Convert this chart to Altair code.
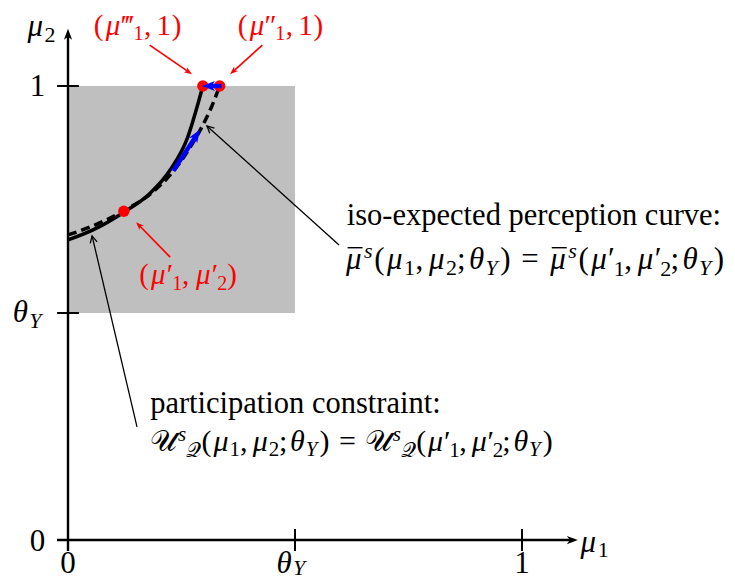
import math
import altair as alt
import pandas as pd

# ---------------- data (1 unit = 454 px on both axes) ----------------
shade_x = [0.0, 0.5]
shade_y = [0.5, 1.0]

x_axis = [-0.024, 1.123]          # start, arrow tip
y_axis = [-0.024, 1.126]
x_ticks = [0.0, 0.5, 1.0]
y_ticks = [0.0, 0.5, 1.0]
tick_half = 0.024

solid_x = [0.0, 0.055, 0.123, 0.181, 0.225, 0.264, 0.286, 0.297]
solid_y = [0.661, 0.683, 0.722, 0.764, 0.815, 0.888, 0.960, 1.0]
dashed_x = [0.0, 0.055, 0.123, 0.181, 0.225, 0.264, 0.295, 0.317, 0.334]
dashed_y = [0.672, 0.692, 0.725, 0.762, 0.804, 0.857, 0.910, 0.956, 1.0]

red_dot_x = [0.123, 0.297, 0.334]
red_dot_y = [0.724, 1.0, 1.0]

blue_tail_x = [0.232, 0.338]
blue_tail_y = [0.813, 1.0]
blue_tip_x = [0.291, 0.295]
blue_tip_y = [0.904, 1.0]

black_tail_x = [0.597, 0.152]
black_tail_y = [0.650, 0.249]
black_tip_x = [0.306, 0.053]
black_tip_y = [0.912, 0.670]

red_tail_x = [0.180, 0.428, 0.225]
red_tail_y = [1.090, 1.090, 0.623]
red_tip_x = [0.273, 0.357, 0.150]
red_tip_y = [1.026, 1.026, 0.700]

# ---------------- scales ----------------
UNIT = 454.0
W, H = 719, 572
X_DOMAIN = [-60 / UNIT, -60 / UNIT + W / UNIT]
Y_DOMAIN = [-40 / UNIT, -40 / UNIT + H / UNIT]
xs = alt.Scale(domain=X_DOMAIN, nice=False, zero=False)
ys = alt.Scale(domain=Y_DOMAIN, nice=False, zero=False)


def ex(f):
    return alt.X(f, type="quantitative", scale=xs, axis=None)


def ey(f):
    return alt.Y(f, type="quantitative", scale=ys, axis=None)


FONT = "Liberation Serif, DejaVu Serif, DejaVu Sans, serif"
STEALTH = "M0,0 L0.75,2 L0,1.45 L-0.75,2 Z"
OPEN_V = "M-0.8,1.6 L0,0 L0.8,1.6"

layers = []

# shaded square
layers.append(
    alt.Chart(pd.DataFrame({"x0": [shade_x[0]], "x1": [shade_x[1]], "y0": [shade_y[0]], "y1": [shade_y[1]]}))
    .mark_rect(color="#bfbfbf")
    .encode(x=ex("x0"), x2=alt.X2("x1"), y=ey("y0"), y2=alt.Y2("y1"))
)

# ticks
tick_rows = [dict(x0=t, x1=t, y0=-tick_half, y1=tick_half) for t in x_ticks] + \
            [dict(x0=-tick_half, x1=tick_half, y0=t, y1=t) for t in y_ticks]
layers.append(
    alt.Chart(pd.DataFrame(tick_rows)).mark_rule(color="black", strokeWidth=2)
    .encode(x=ex("x0"), x2=alt.X2("x1"), y=ey("y0"), y2=alt.Y2("y1"))
)


def arrows(tx, ty, hx, hy, color, width, shape, size, filled, back_px, sw=1.2):
    rows = []
    for x0, y0, x1, y1 in zip(tx, ty, hx, hy):
        L = math.hypot(x1 - x0, y1 - y0)
        ux, uy = (x1 - x0) / L, (y1 - y0) / L
        b = back_px / UNIT
        rows.append(dict(x0=x0, y0=y0, x1=x1 - ux * b, y1=y1 - uy * b, hx=x1, hy=y1,
                         ang=math.degrees(math.atan2(ux, uy)) % 360))
    df = pd.DataFrame(rows)
    shaft = alt.Chart(df).mark_rule(color=color, strokeWidth=width).encode(
        x=ex("x0"), y=ey("y0"), x2=alt.X2("x1"), y2=alt.Y2("y1"))
    if filled:
        hm = alt.Chart(df).mark_point(shape=shape, size=size, filled=True, color=color, opacity=1)
    else:
        hm = alt.Chart(df).mark_point(shape=shape, size=size, filled=False, color=color,
                                      opacity=1, strokeWidth=sw)
    head = hm.encode(x=ex("hx"), y=ey("hy"), angle=alt.Angle("ang:Q", scale=None))
    return [shaft, head]


# axes
layers += arrows([x_axis[0], 0.0], [0.0, y_axis[0]], [x_axis[1], 0.0], [0.0, y_axis[1]],
                 "black", 2.4, STEALTH, 121, True, 7)

# curves
layers.append(
    alt.Chart(pd.DataFrame({"x": solid_x, "y": solid_y}))
    .mark_line(color="black", strokeWidth=3.5, interpolate="monotone")
    .encode(x=ex("x"), y=ey("y"))
)
layers.append(
    alt.Chart(pd.DataFrame({"x": dashed_x, "y": dashed_y}))
    .mark_line(color="black", strokeWidth=3.5, interpolate="monotone", strokeDash=[9, 5])
    .encode(x=ex("x"), y=ey("y"))
)

# red dots
layers.append(
    alt.Chart(pd.DataFrame({"x": red_dot_x, "y": red_dot_y}))
    .mark_circle(size=130, color="#ff0000", opacity=1)
    .encode(x=ex("x"), y=ey("y"))
)

# blue arrows
layers += arrows(blue_tail_x, blue_tail_y, blue_tip_x, blue_tip_y, "#0000ff", 4.4, STEALTH, 170, True, 9)
# black annotation arrows
layers += arrows(black_tail_x, black_tail_y, black_tip_x, black_tip_y, "black", 1.3, OPEN_V, 77, False, 0, 1.3)
# red annotation arrows
layers += arrows(red_tail_x, red_tail_y, red_tip_x, red_tip_y, "#ff0000", 1.7, STEALTH, 64, True, 5)

# ---------------- text (pieces laid out in em units) ----------------
M_, P_ = 0.603, 0.35   # widths (em) of mu and of a script digit
N, I = "normal", "italic"


def half(first_sym, primed):
    p = list(first_sym)
    for k, d in enumerate(["1", "2"]):
        if k == 1:
            p.append((",", .278, .4, 0, N, "M"))
        p.append(("μ", M_, M_, 0, I, "M"))
        if primed:
            p += [("′", .2, .2, 0, N, "M"), (d, .3, .3, -.2, N, "S")]
        else:
            p.append((d, P_, P_, -.18, N, "S"))
    p = p[:len(first_sym)] + [("(", .389, .389, 0, N, "M")] + p[len(first_sym):]
    p += [(";", .278, .4, 0, N, "M"), ("θ", .469, .469, 0, I, "M"),
          ("Y", .5, .5, -.18, I, "S"), (")", .389, .389, 0, N, "M")]
    return p


MUBAR = [("bar", M_, 0, 0, "", ""), ("μ", M_, M_, 0, I, "M"), ("s", .33, .33, .36, I, "S")]
CALU = [("𝒰", .95, .95, 0, N, "M"), ("s", .3, .3, .36, I, "S"), ("𝒬", .5, .5, -.22, N, "S")]
EQ = [("=", 1.2, 1.2, 0, N, "M")]

F_iso = half(MUBAR, False) + EQ + half(MUBAR, True)
F_part = half(CALU, False) + EQ + half(CALU, True)

L_top1 = [("(", .389, .389, 0, N, "M"), ("μ", M_, M_, 0, I, "M"), ("‴", .4, .4, 0, N, "M"),
          ("1", .35, .35, -.2, N, "S"), (",", .278, .445, 0, N, "M"), ("1", .5, .5, 0, N, "M"),
          (")", .389, .389, 0, N, "M")]
L_top2 = [("(", .389, .389, 0, N, "M"), ("μ", M_, M_, 0, I, "M"), ("″", .33, .33, 0, N, "M"),
          ("1", .35, .35, -.2, N, "S"), (",", .278, .445, 0, N, "M"), ("1", .5, .5, 0, N, "M"),
          (")", .389, .389, 0, N, "M")]
L_mid = [("(", .389, .389, 0, N, "M"), ("μ", M_, M_, 0, I, "M"), ("′", .2, .2, 0, N, "M"),
         ("1", .3, .3, -.2, N, "S"), (",", .278, .445, 0, N, "M"), ("μ", M_, M_, 0, I, "M"),
         ("′", .2, .2, 0, N, "M"), ("2", .3, .3, -.2, N, "S"), (")", .389, .389, 0, N, "M")]
L_mu2 = [("μ", M_, M_, 0, I, "M"), ("2", P_, P_, -.18, N, "S")]
L_mu1 = [("μ", M_, M_, 0, I, "M"), ("1", P_, P_, -.18, N, "S")]
L_theta = [("θ", .469, .469, 0, I, "M"), ("Y", .5, .5, -.18, I, "S")]
L_theta_low = [("θ", .469, .469, 0, I, "M"), ("Y", .5, .5, -.07, I, "S")]

text_rows, bar_rows = [], []


def layout(pieces, x0, y0, color, em=31.0, ms=31, ss=22):
    u = em / UNIT
    x = x0
    for t, g, a, sh, sty, sz in pieces:
        if t == "bar":
            bar_rows.append(dict(x0=x + 0.1 * u, x1=x + (g - 0.02) * u, y=y0 + 0.7 * u, col=color))
        else:
            text_rows.append(dict(x=x + g * u / 2, y=y0 + sh * u, t=t, sty=sty,
                                  fs=ms if sz == "M" else ss, col=color))
        x += a * u


layout(F_iso, 0.609, 0.596, "black")
layout(F_part, 0.181, 0.196, "black", em=29.0, ms=30, ss=21)
layout(L_top1, 0.055, 1.1134, "#ff0000", em=29.0, ms=29, ss=20)
layout(L_top2, 0.372, 1.1134, "#ff0000", em=29.0, ms=29, ss=20)
layout(L_mid, 0.155, 0.563, "#ff0000", em=29.0, ms=29, ss=20)
layout(L_mu2, -0.0925, 1.110, "black")
layout(L_mu1, 1.1256, -0.026, "black")
layout(L_theta, -0.121, 0.480, "black")
layout(L_theta_low, 0.460, -0.0727, "black")

# plain digit tick labels
for xx, yy, t in [(-0.067, 0.978, "1"), (-0.067, -0.024, "0"), (0.0, -0.0727, "0"), (1.0, -0.0727, "1")]:
    text_rows.append(dict(x=xx, y=yy, t=t, sty=N, fs=31, col="black"))

tdf = pd.DataFrame(text_rows)
for sty in [N, I]:
    sub = tdf[tdf["sty"] == sty]
    layers.append(
        alt.Chart(sub).mark_text(align="center", baseline="alphabetic", font=FONT, fontStyle=sty)
        .encode(x=ex("x"), y=ey("y"), text="t:N", size=alt.Size("fs:Q", scale=None),
                color=alt.Color("col:N", scale=None))
    )

layers.append(
    alt.Chart(pd.DataFrame(bar_rows)).mark_rule(strokeWidth=1.4)
    .encode(x=ex("x0"), x2=alt.X2("x1"), y=ey("y"), color=alt.Color("col:N", scale=None))
)

plain = pd.DataFrame({
    "x": [0.614, 0.181],
    "y": [0.694, 0.280],
    "t": ["iso-expected perception curve:", "participation constraint:"],
})
layers.append(
    alt.Chart(plain).mark_text(align="left", baseline="alphabetic", font=FONT, fontSize=30.5, color="black")
    .encode(x=ex("x"), y=ey("y"), text="t:N")
)

chart = alt.layer(*layers).properties(
    width=W, height=H, padding=0, autosize=alt.AutoSizeParams(type="none"), background="white"
).configure_view(strokeWidth=0)

chart.save("out.html", embed_options={"renderer": "svg", "actions": False})
